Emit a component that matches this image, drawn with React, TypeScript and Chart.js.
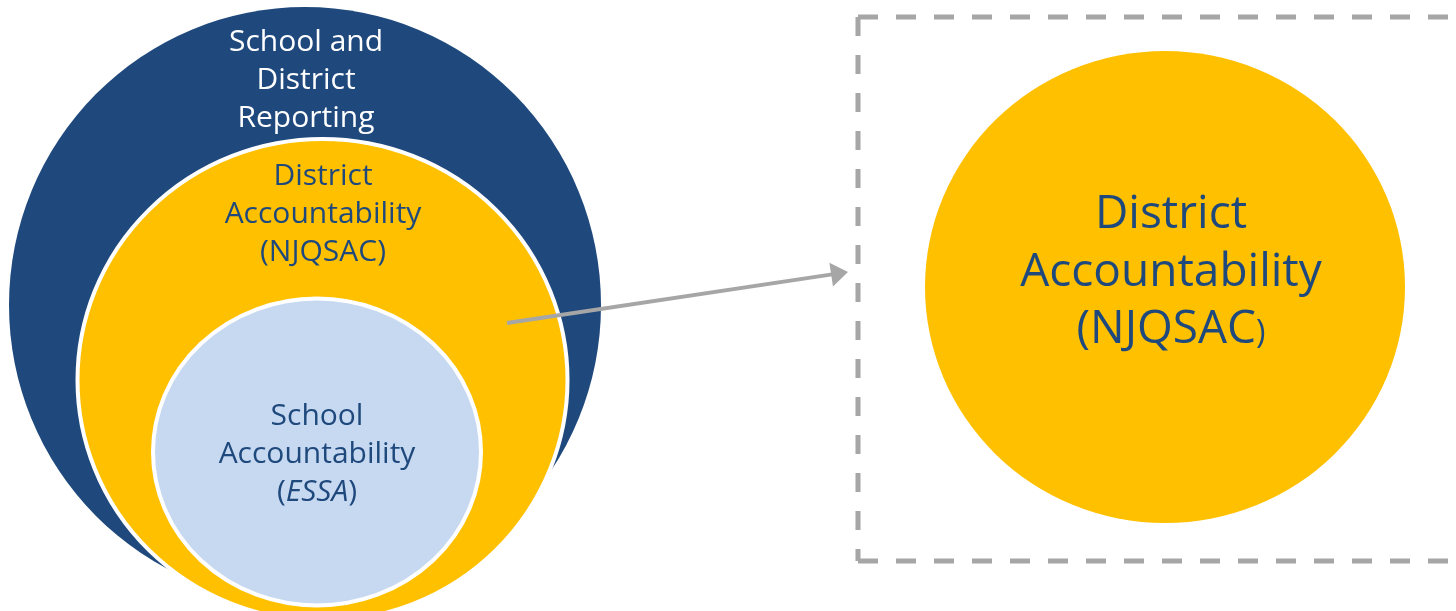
import React, { useEffect, useRef } from "react";
import { Chart, registerables } from "chart.js";

Chart.register(...registerables);

// Diagram geometry expressed in the chart's data units (x: 0..1456, y: 0..611)
const ellipseNames = [
  "School and District Reporting",
  "District Accountability (NJQSAC)",
  "School Accountability (ESSA)",
  "District Accountability (NJQSAC) detail",
];
const ellipseCenterX = [305, 322.5, 317, 1165];
const ellipseCenterY = [305, 380, 452, 287];
const ellipseRadiusX = [296, 245, 164, 240];
const ellipseRadiusY = [298, 241, 153.5, 236];

// Label text, one array per region (each line is a list of [text, variant] pieces)
const outerLines = [[["School and", "n"]], [["District", "n"]], [["Reporting", "n"]]];
const middleLines = [[["District", "n"]], [["Accountability", "n"]], [["(NJQSAC)", "n"]]];
const innerLines = [
  [["School", "n"]],
  [["Accountability", "n"]],
  [["(", "n"], ["ESSA", "i"], [")", "n"]],
];
const detailLines = [
  [["District", "n"]],
  [["Accountability", "n"]],
  [["(NJQSAC", "n"], [")", "s"]],
];
const labelCenterX = [306, 323, 317, 1171];
const labelFirstBaseline = [51, 185, 425, 228];
const labelLineStep = [38, 38, 38, 57.5];

// Arrow and dashed frame, in data units
const arrowStart = { x: 507, y: 323 };
const arrowTip = { x: 848, y: 272 };
const frameLeft = 858;
const frameTop = 17;
const frameBottom = 561;
const frameRight = 1475;

const DARK_BLUE = "#1F497D";
const YELLOW = "#FFC000";
const LIGHT_BLUE = "#C6D9F1";
const GRAY = "#A6A6A6";
const FONT = "'Open Sans', sans-serif";

const ellipseFills = [DARK_BLUE, YELLOW, LIGHT_BLUE, YELLOW];
const ellipseBorders = [false, true, true, false];
const labelColors = ["#FFFFFF", DARK_BLUE, DARK_BLUE, DARK_BLUE];
const labelSizes = [30, 30, 30, 46];
const HEAD_LEN = 17;
const HEAD_HALF = 12;

export default function App() {
  const ref = useRef<HTMLCanvasElement | null>(null);

  useEffect(() => {
    const canvas = ref.current;
    if (!canvas) return;

    const dx = arrowTip.x - arrowStart.x;
    const dy = arrowTip.y - arrowStart.y;
    const len = Math.sqrt(dx * dx + dy * dy);
    const arrowBase = {
      x: arrowTip.x - (dx / len) * (HEAD_LEN - 1),
      y: arrowTip.y - (dy / len) * (HEAD_LEN - 1),
    };

    const allLines = [outerLines, middleLines, innerLines, detailLines];

    const vennPlugin = {
      id: "venn",
      beforeDatasetsDraw(chart: any) {
        const { ctx } = chart;
        const xs = chart.scales.x;
        const ys = chart.scales.y;
        for (let i = 0; i < ellipseCenterX.length; i++) {
          const cx = xs.getPixelForValue(ellipseCenterX[i]);
          const cy = ys.getPixelForValue(ellipseCenterY[i]);
          const rx = Math.abs(xs.getPixelForValue(ellipseCenterX[i] + ellipseRadiusX[i]) - cx);
          const ry = Math.abs(ys.getPixelForValue(ellipseCenterY[i] + ellipseRadiusY[i]) - cy);
          ctx.save();
          ctx.beginPath();
          ctx.ellipse(cx, cy, rx, ry, 0, 0, Math.PI * 2);
          ctx.fillStyle = ellipseFills[i];
          ctx.fill();
          if (ellipseBorders[i]) {
            ctx.lineWidth = 4;
            ctx.strokeStyle = "#FFFFFF";
            ctx.stroke();
          }
          ctx.restore();
        }
      },
      afterDatasetsDraw(chart: any) {
        const { ctx } = chart;
        const xs = chart.scales.x;
        const ys = chart.scales.y;
        // arrow head
        const tx = xs.getPixelForValue(arrowTip.x);
        const ty = ys.getPixelForValue(arrowTip.y);
        const sx = xs.getPixelForValue(arrowStart.x);
        const sy = ys.getPixelForValue(arrowStart.y);
        const ang = Math.atan2(ty - sy, tx - sx);
        const bx = tx - Math.cos(ang) * HEAD_LEN;
        const by = ty - Math.sin(ang) * HEAD_LEN;
        ctx.save();
        ctx.beginPath();
        ctx.moveTo(tx, ty);
        ctx.lineTo(bx + Math.sin(ang) * HEAD_HALF, by - Math.cos(ang) * HEAD_HALF);
        ctx.lineTo(bx - Math.sin(ang) * HEAD_HALF, by + Math.cos(ang) * HEAD_HALF);
        ctx.closePath();
        ctx.fillStyle = GRAY;
        ctx.fill();
        ctx.restore();

        // labels
        for (let r = 0; r < allLines.length; r++) {
          const lines = allLines[r];
          const size = labelSizes[r];
          const cx = xs.getPixelForValue(labelCenterX[r]);
          ctx.save();
          ctx.fillStyle = labelColors[r];
          ctx.textBaseline = "alphabetic";
          ctx.textAlign = "left";
          lines.forEach((pieces: any[], li: number) => {
            const base = ys.getPixelForValue(labelFirstBaseline[r] + li * labelLineStep[r]);
            const fontFor = (v: string) =>
              v === "i"
                ? `italic ${size}px ${FONT}`
                : v === "s"
                ? `${Math.round(size * 0.7)}px ${FONT}`
                : `${size}px ${FONT}`;
            let total = 0;
            const widths = pieces.map((p: any) => {
              ctx.font = fontFor(p[1]);
              const w = ctx.measureText(p[0]).width;
              total += w;
              return w;
            });
            let x = cx - total / 2;
            pieces.forEach((p: any, k: number) => {
              ctx.font = fontFor(p[1]);
              ctx.fillText(p[0], x, base);
              x += widths[k];
            });
          });
          ctx.restore();
        }
      },
    };

    const lineStyle = {
      showLine: true,
      pointRadius: 0,
      pointHoverRadius: 0,
      borderColor: GRAY,
      borderCapStyle: "butt",
      clip: false,
      tension: 0,
    };

    const chart = new Chart(canvas, {
      type: "scatter",
      data: {
        datasets: [
          {
            label: "arrow",
            data: [arrowStart, arrowBase],
            ...lineStyle,
            borderWidth: 4,
          } as any,
          {
            label: "frame-top",
            data: [
              { x: frameLeft, y: frameTop },
              { x: frameRight, y: frameTop },
            ],
            ...lineStyle,
            borderWidth: 5,
            borderDash: [20, 18],
          } as any,
          {
            label: "frame-left",
            data: [
              { x: frameLeft, y: frameTop },
              { x: frameLeft, y: frameBottom },
            ],
            ...lineStyle,
            borderWidth: 5,
            borderDash: [19, 19],
          } as any,
          {
            label: "frame-bottom",
            data: [
              { x: frameLeft, y: frameBottom },
              { x: frameRight, y: frameBottom },
            ],
            ...lineStyle,
            borderWidth: 5,
            borderDash: [20, 18],
          } as any,
        ],
      },
      options: {
        responsive: false,
        maintainAspectRatio: false,
        devicePixelRatio: 1,
        animation: false,
        events: [],
        layout: { padding: 0 },
        plugins: {
          legend: { display: false },
          tooltip: { enabled: false },
          title: { display: false },
        },
        scales: {
          x: { type: "linear", min: 0, max: 1456, display: false },
          y: { type: "linear", min: 0, max: 611, reverse: true, display: false },
        },
      } as any,
      plugins: [vennPlugin],
    });

    return () => chart.destroy();
  }, []);

  return (
    <div
      style={{ position: "absolute", left: 0, top: 0, width: 1456, height: 611, background: "#FFFFFF" }}
      aria-label={ellipseNames.join(", ")}
    >
      <canvas ref={ref} width={1456} height={611} style={{ display: "block" }} />
    </div>
  );
}
